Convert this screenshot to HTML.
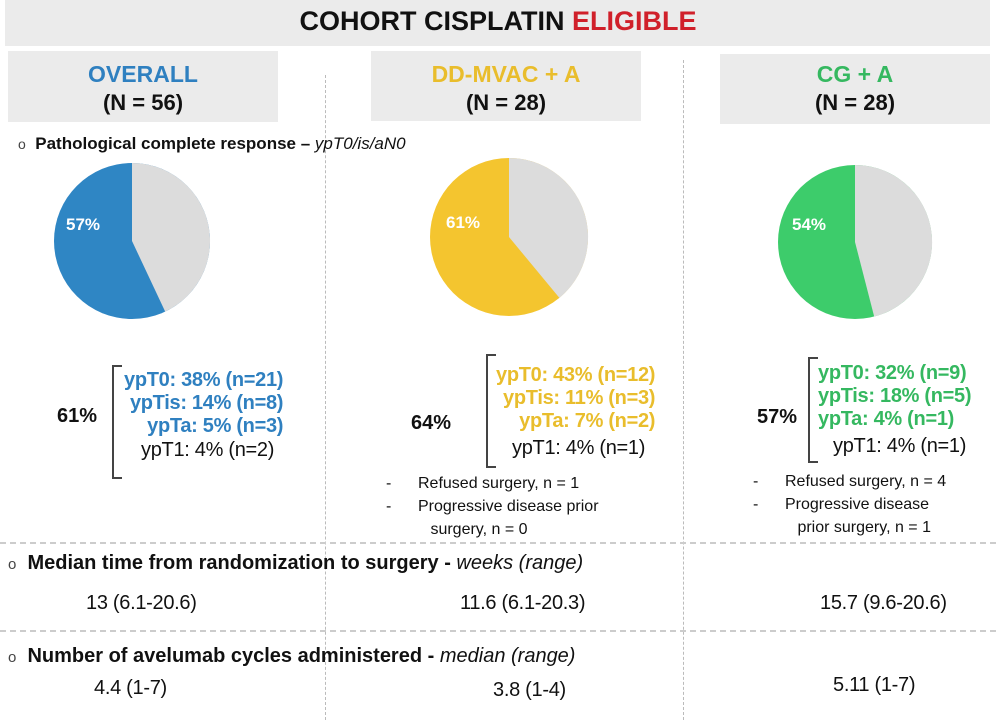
<!DOCTYPE html>
<html><head><style>
body{margin:0;width:996px;height:720px;background:#fff;position:relative;overflow:hidden;font-family:"Liberation Sans",Arial,sans-serif;color:#111}
.a{position:absolute;white-space:nowrap}
.box{position:absolute;background:#ebebeb}
.b{font-weight:bold}
.c{text-align:center}
.blue{color:#2f80c0}.yel{color:#e9bd2c}.grn{color:#35b860}
.vl{position:absolute;width:0;border-left:1px dashed #bbb}
.hl{position:absolute;height:0;left:0;width:996px;border-top:2px dashed #ccc}
.br{position:absolute;border:2px solid #444;border-right:none;width:8px}
.y{font-size:20px;line-height:23px;letter-spacing:-0.3px}
</style></head><body>
<div class="box" style="left:5px;top:0;width:985px;height:46px"></div>
<div class="a b c" style="left:0;width:996px;top:6px;font-size:27px">COHORT CISPLATIN <span style="color:#d0202a">ELIGIBLE</span></div>

<div class="box" style="left:8px;top:51px;width:270px;height:71px"></div>
<div class="box" style="left:371px;top:51px;width:270px;height:70px"></div>
<div class="box" style="left:720px;top:54px;width:270px;height:70px"></div>
<div class="a b c blue" style="left:8px;width:270px;top:61px;font-size:23px">OVERALL</div>
<div class="a b c" style="left:8px;width:270px;top:90px;font-size:22px">(N = 56)</div>
<div class="a b c yel" style="left:371px;width:270px;top:61px;font-size:23px">DD-MVAC + A</div>
<div class="a b c" style="left:371px;width:270px;top:90px;font-size:22px">(N = 28)</div>
<div class="a b c grn" style="left:720px;width:270px;top:61px;font-size:23px">CG + A</div>
<div class="a b c" style="left:720px;width:270px;top:90px;font-size:22px">(N = 28)</div>

<div class="vl" style="left:325px;top:75px;height:645px"></div>
<div class="vl" style="left:683px;top:60px;height:660px"></div>
<div class="hl" style="top:542px"></div>
<div class="hl" style="top:630px"></div>

<div class="a" style="left:18px;top:134px;font-size:17px"><span style="font-size:14px;color:#444">o</span>&nbsp; <b>Pathological complete response –</b> <i>ypT0/is/aN0</i></div>

<svg class="a" style="left:0;top:0" width="996" height="720">
<circle cx="132" cy="241" r="78" fill="#2f86c4"/>
<path d="M132 241 L132 163 A78 78 0 0 1 165.2 311.6 Z" fill="#dcdcdc"/>
<circle cx="509" cy="237" r="79" fill="#f4c52f"/>
<path d="M509 237 L509 158 A79 79 0 0 1 559.4 297.9 Z" fill="#dcdcdc"/>
<circle cx="855" cy="242" r="77" fill="#3dcc6b"/>
<path d="M855 242 L855 165 A77 77 0 0 1 874.2 316.6 Z" fill="#dcdcdc"/>
<text x="66" y="230" fill="#fff" font-size="17" font-weight="bold" font-family="Liberation Sans">57%</text>
<text x="446" y="228" fill="#fff" font-size="17" font-weight="bold" font-family="Liberation Sans">61%</text>
<text x="792" y="230" fill="#fff" font-size="17" font-weight="bold" font-family="Liberation Sans">54%</text>
</svg>

<div class="br" style="left:112px;top:365px;height:110px"></div>
<div class="a b" style="left:57px;top:405px;font-size:20px">61%</div>
<div class="a b blue y" style="left:124px;top:369px;text-align:right">ypT0: 38% (n=21)<br>ypTis: 14% (n=8)<br>ypTa: 5% (n=3)</div>
<div class="a y" style="left:141px;top:439px">ypT1: 4% (n=2)</div>

<div class="br" style="left:486px;top:354px;height:110px"></div>
<div class="a b" style="left:411px;top:412px;font-size:20px">64%</div>
<div class="a b yel y" style="left:496px;top:364px;text-align:right">ypT0: 43% (n=12)<br>ypTis: 11% (n=3)<br>ypTa: 7% (n=2)</div>
<div class="a y" style="left:512px;top:437px">ypT1: 4% (n=1)</div>
<div class="a" style="left:386px;top:472px;font-size:16px;line-height:23px">-&nbsp;&nbsp;&nbsp;&nbsp;&nbsp; Refused surgery, n = 1<br>-&nbsp;&nbsp;&nbsp;&nbsp;&nbsp; Progressive disease prior<br>&nbsp;&nbsp;&nbsp;&nbsp;&nbsp;&nbsp;&nbsp;&nbsp;&nbsp; surgery, n = 0</div>

<div class="br" style="left:808px;top:357px;height:102px"></div>
<div class="a b" style="left:757px;top:406px;font-size:20px">57%</div>
<div class="a b grn y" style="left:818px;top:362px">ypT0: 32% (n=9)<br>ypTis: 18% (n=5)<br>ypTa: 4% (n=1)</div>
<div class="a y" style="left:833px;top:435px">ypT1: 4% (n=1)</div>
<div class="a" style="left:753px;top:470px;font-size:16px;line-height:23px">-&nbsp;&nbsp;&nbsp;&nbsp;&nbsp; Refused surgery, n = 4<br>-&nbsp;&nbsp;&nbsp;&nbsp;&nbsp; Progressive disease<br>&nbsp;&nbsp;&nbsp;&nbsp;&nbsp;&nbsp;&nbsp;&nbsp;&nbsp; prior surgery, n = 1</div>

<div class="a" style="left:8px;top:552px;font-size:20px"><span style="font-size:15px;color:#444">o</span>&nbsp; <b>Median time from randomization to surgery -</b> <i>weeks (range)</i></div>
<div class="a" style="left:86px;top:592px;font-size:20px;letter-spacing:-0.3px">13 (6.1-20.6)</div>
<div class="a" style="left:460px;top:592px;font-size:20px;letter-spacing:-0.3px">11.6 (6.1-20.3)</div>
<div class="a" style="left:820px;top:592px;font-size:20px;letter-spacing:-0.3px">15.7 (9.6-20.6)</div>

<div class="a" style="left:8px;top:645px;font-size:20px"><span style="font-size:15px;color:#444">o</span>&nbsp; <b>Number of avelumab cycles administered -</b> <i>median (range)</i></div>
<div class="a" style="left:94px;top:677px;font-size:20px;letter-spacing:-0.3px">4.4 (1-7)</div>
<div class="a" style="left:493px;top:679px;font-size:20px;letter-spacing:-0.3px">3.8 (1-4)</div>
<div class="a" style="left:833px;top:674px;font-size:20px;letter-spacing:-0.3px">5.11 (1-7)</div>
</body></html>
